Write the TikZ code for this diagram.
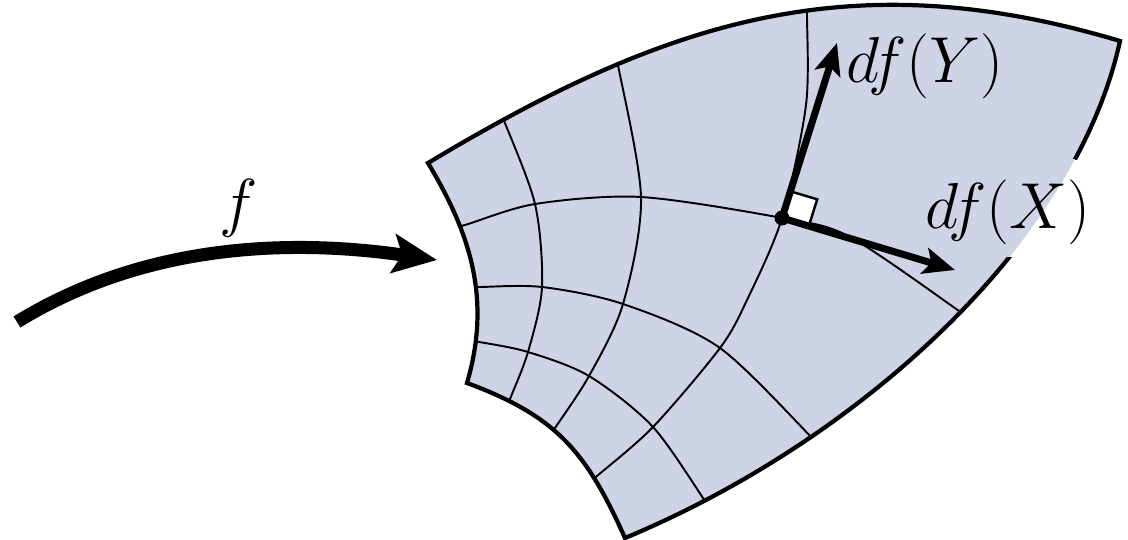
\RequirePackage{fix-cm}
\documentclass[tikz,border=0pt]{standalone}
\usepackage{amsmath}
\usetikzlibrary{arrows.meta,calc}
\definecolor{sheetblue}{RGB}{207,211,230}
\tikzset{>=Stealth}
\tikzset{
  sheet/.style={fill=sheetblue},
  rim/.style={line width=2.4pt, line join=miter},
  gridline/.style={line width=1.1pt},
  maparrow/.style={line width=7.4pt, -{Stealth[length=25pt,width=22pt,inset=5pt]}},
  vecarrow/.style={line width=4pt, -{Stealth[length=18pt,width=15pt,inset=4pt]}},
  rightangle/.style={fill=white, draw=black, line width=1.4pt},
  biglabel/.style={font=\fontsize{37}{44}\selectfont, inner sep=0pt},
}
% outline of the image sheet: top, right, bottom and left edge
\newcommand{\sheetoutline}{%
  (p00) .. controls (668,19) and (852,-39) .. (p40)
        .. controls (1075,246) and (856,442) .. (p44)
        .. controls (586,451) and (556,416) .. (p04)
        .. controls (491,301) and (472,236) .. cycle}

\begin{document}
\begin{tikzpicture}[x=0.02cm, y=-0.02cm]
  \useasboundingbox (0,0) rectangle (1128,540);
  % corners of the sheet
  \coordinate (p00) at (428,163);
  \coordinate (p40) at (1120,41);
  \coordinate (p44) at (625,538);
  \coordinate (p04) at (467,383);
  % inner grid points, column i and row j
  \coordinate (p11) at (535,204);  \coordinate (p21) at (641,197);
  \coordinate (p31) at (782,218);
  \coordinate (p12) at (542,287);  \coordinate (p22) at (623,304);
  \coordinate (p32) at (720,348);
  \coordinate (p13) at (528,352);  \coordinate (p23) at (589,376);
  \coordinate (p33) at (653,427);

  \fill[sheet] \sheetoutline;

  % coordinate lines, cut off at the rim
  \begin{scope}
    \clip \sheetoutline;
    \draw[gridline] plot[smooth] coordinates {(452,227) (465,225) (p11) (p21) (p31) (850,237) (962,313) (975,322)};
    \draw[gridline] plot[smooth] coordinates {(466,287) (479,287) (p12) (p22) (p32) (817,443) (826,452)};
    \draw[gridline] plot[smooth] coordinates {(466,341) (479,342) (p13) (p23) (p33) (707,504) (713,513)};
    \draw[gridline] plot[smooth] coordinates {(499,107) (503,118) (p11) (p12) (p13) (510,399) (506,410)};
    \draw[gridline] plot[smooth] coordinates {(615,48) (617,60) (p21) (p22) (p23) (555,428) (549,437)};
    \draw[gridline] plot[smooth] coordinates {(807,2) (807,15) (806,105) (p31) (747,300) (p32) (p33) (597,476) (589,483)};
  \end{scope}

  \draw[rim] \sheetoutline;

  % gap in the rim behind df(X)
  \coordinate (gapA) at (915,160);
  \coordinate (gapB) at (1100,257);
  \begin{scope}
    \clip (gapA) rectangle (gapB);
    \fill[white] (gapA) rectangle (gapB);
    \fill[sheet] \sheetoutline;
  \end{scope}

  % the map f
  \coordinate (ftail) at (17,322);
  \coordinate (fhead) at (437,260);
  \draw[maparrow] (ftail) .. controls (150,240) and (300,240) .. (fhead);
  \node[biglabel] (lblF) at (239,208) {$f$};

  % pushed forward vectors
  \coordinate (tipX) at (955,270);
  \coordinate (tipY) at (837,43);
  \coordinate (sqX) at ($(p31)!0.56cm!(tipX)$);
  \coordinate (sqY) at ($(p31)!0.56cm!(tipY)$);
  \draw[rightangle] (p31) -- (sqX) -- ($(sqX)+(sqY)-(p31)$) -- (sqY) -- cycle;
  \draw[vecarrow] (p31) -- (tipX);
  \draw[vecarrow] (p31) -- (tipY);
  \node[circle, fill=black, inner sep=0pt, minimum size=0.3cm] (pt) at (p31) {};

  \node[biglabel] (lblY) at (925,66) {$df(Y)$};
  \node[biglabel] (lblX) at (1008,212) {$df(X)$};
\end{tikzpicture}
\end{document}
